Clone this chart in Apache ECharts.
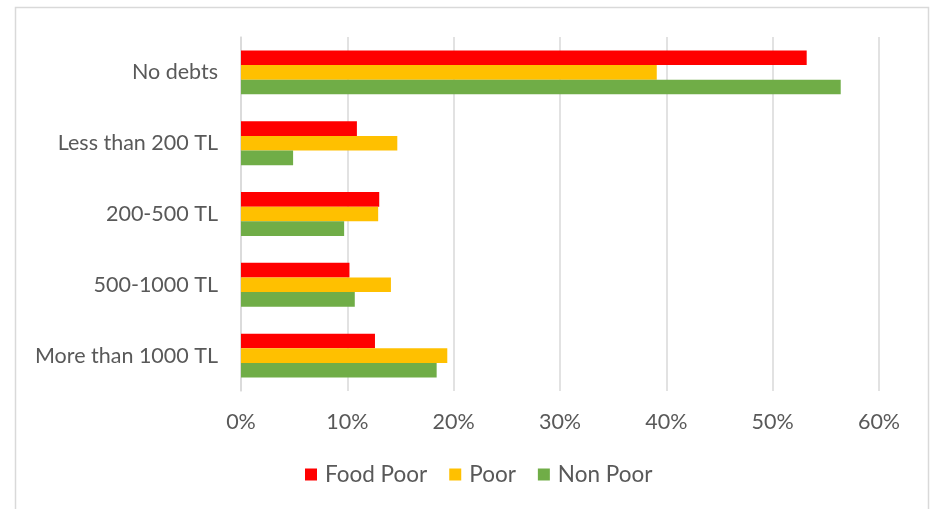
<!DOCTYPE html>
<html>
<head>
<meta charset="utf-8">
<script src="https://cdn.jsdelivr.net/npm/echarts@6/dist/echarts.min.js"></script>
<style>
  html, body { margin: 0; padding: 0; background: #ffffff; }
  #chart { width: 932px; height: 509px; }
</style>
</head>
<body>
<div id="chart"></div>
<script>
// Debt levels by poverty status (share of households, %)
const categories = ['No debts', 'Less than 200 TL', '200-500 TL', '500-1000 TL', 'More than 1000 TL'];
const seriesNames = ['Food Poor', 'Poor', 'Non Poor'];
const foodPoor = [53.2, 10.9, 13.0, 10.2, 12.6];
const poor = [39.1, 14.7, 12.9, 14.1, 19.4];
const nonPoor = [56.4, 4.9, 9.7, 10.7, 18.4];
const xTicks = [0, 10, 20, 30, 40, 50, 60];

const colors = ['#ff0000', '#ffc000', '#70ad47'];
const values = [foodPoor, poor, nonPoor];
const textColor = '#595959';
const fontFamily = 'Lato, "Open Sans", sans-serif';
const fontSize = 21.5;

const chart = echarts.init(document.getElementById('chart'), null, { renderer: 'canvas' });

chart.setOption({
  animation: false,
  backgroundColor: '#ffffff',
  graphic: [{
    type: 'rect',
    shape: { x: 15.5, y: 7.5, width: 913, height: 510 },
    style: { fill: 'none', stroke: '#d9d9d9', lineWidth: 1.5 },
    silent: true,
    z: -1
  }],
  grid: { left: 241, right: 53, top: 37, bottom: 118, containLabel: false },
  legend: {
    data: seriesNames,
    bottom: 18,
    left: 300,
    icon: 'rect',
    itemWidth: 12,
    itemHeight: 12,
    itemGap: 22,
    textStyle: { color: textColor, fontSize: 22.5, fontFamily: fontFamily, padding: [0, 0, 0, 3] }
  },
  xAxis: {
    type: 'value',
    min: xTicks[0],
    max: xTicks[xTicks.length - 1],
    interval: 10,
    axisLine: { show: false },
    axisTick: { show: false },
    splitLine: { show: true, lineStyle: { color: '#d9d9d9', width: 1.5 } },
    axisLabel: {
      color: textColor, fontSize: fontSize, fontFamily: fontFamily, margin: 20,
      formatter: v => v + '%'
    }
  },
  yAxis: {
    type: 'category',
    data: categories,
    inverse: true,
    axisLine: { show: true, lineStyle: { color: '#d9d9d9', width: 1.5 } },
    axisTick: { show: false },
    axisLabel: { color: textColor, fontSize: fontSize, fontFamily: fontFamily, margin: 23 }
  },
  series: seriesNames.map((name, i) => ({
    name: name,
    type: 'bar',
    data: values[i],
    itemStyle: { color: colors[i] },
    barGap: '0%',
    barCategoryGap: '38%'
  }))
});
</script>
</body>
</html>
